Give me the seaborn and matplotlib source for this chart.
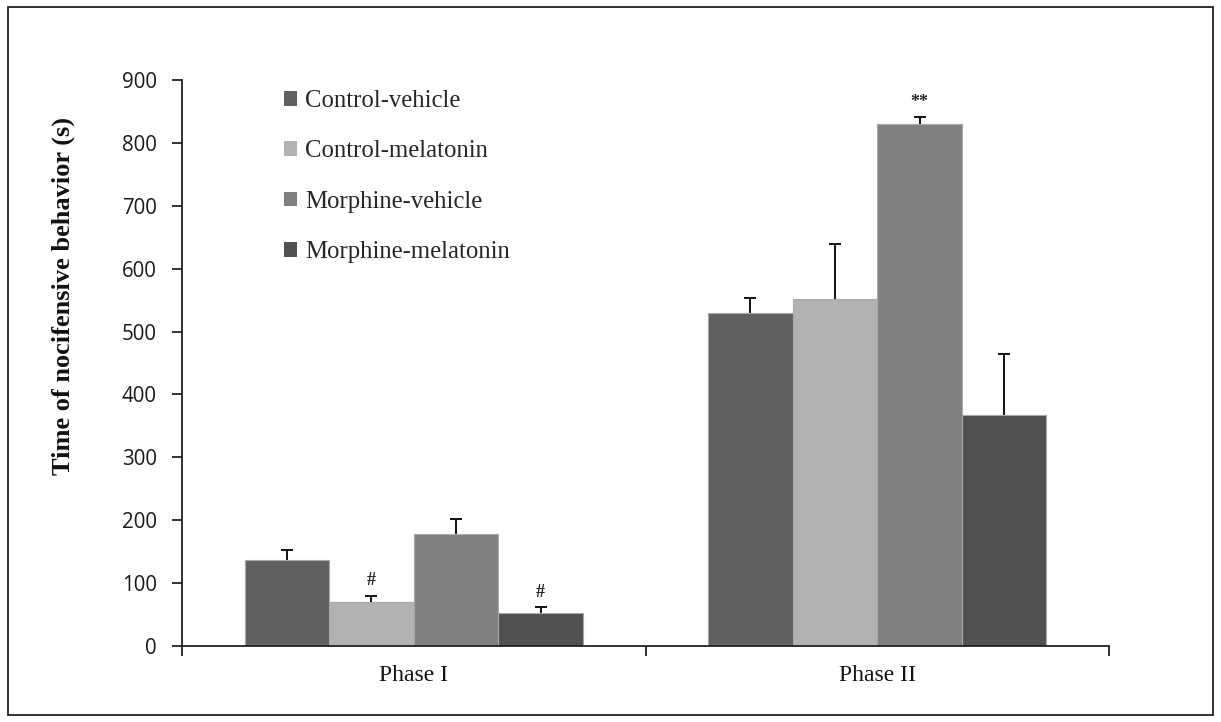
import matplotlib
matplotlib.use("Agg")
import matplotlib.pyplot as plt
import seaborn as sns
import pandas as pd
from matplotlib.patches import Rectangle
from matplotlib.ticker import FixedLocator

# ---- data ----
phases = ["Phase I", "Phase II"]
groups = ["Control-vehicle", "Control-melatonin", "Morphine-vehicle", "Morphine-melatonin"]
control_vehicle = [137, 530]
control_melatonin = [70, 552]
morphine_vehicle = [178, 830]
morphine_melatonin = [53, 367]
err_control_vehicle = [15, 24]
err_control_melatonin = [10, 87]
err_morphine_vehicle = [24, 11]
err_morphine_melatonin = [9, 97]
annotations = {("Phase I", "Control-melatonin"): "#",
               ("Phase I", "Morphine-melatonin"): "#",
               ("Phase II", "Morphine-vehicle"): "**"}
yticks = [0, 100, 200, 300, 400, 500, 600, 700, 800, 900]

colors = ["#606060", "#b2b2b2", "#808080", "#515151"]

values = [control_vehicle, control_melatonin, morphine_vehicle, morphine_melatonin]
errors = [err_control_vehicle, err_control_melatonin, err_morphine_vehicle, err_morphine_melatonin]

rows = []
for g, vals in zip(groups, values):
    for p, v in zip(phases, vals):
        rows.append({"phase": p, "group": g, "value": v})
df = pd.DataFrame(rows)

sns.set_theme(style="white")
serif = ["Liberation Serif", "DejaVu Serif"]
sans = ["Open Sans", "DejaVu Sans"]

fig = plt.figure(figsize=(12.21, 7.22), dpi=100)
ax = fig.add_axes([182 / 1221, 1 - 646 / 722, (1109 - 182) / 1221, (646 - 80) / 722])

sns.barplot(data=df, x="phase", y="value", hue="group", order=phases, hue_order=groups,
            palette=colors, width=0.73, edgecolor="#a8a8a8", linewidth=0.8,
            errorbar=None, ax=ax, saturation=1)

for cont, errs, g in zip(ax.containers, errors, groups):
    xs = [b.get_x() + b.get_width() / 2 for b in cont]
    hs = [b.get_height() for b in cont]
    _, caplines, _ = ax.errorbar(xs, hs, yerr=[[0] * len(errs), errs], fmt="none",
                                 ecolor="#111111", elinewidth=1.4, capsize=4,
                                 capthick=1.4, zorder=3)
    caplines[0].set_visible(False)
    for x, h, e, p in zip(xs, hs, errs, phases):
        key = (p, g)
        if key in annotations:
            ax.text(x, h + e + 10, annotations[key], ha="center", va="bottom",
                    fontsize=13, family=serif, fontweight="bold", color="#222222")

ax.set_ylim(0, 900)
ax.set_xlim(-0.5, 1.5)
ax.set_yticks(yticks)
ax.set_yticklabels([str(t) for t in yticks], family=sans, fontsize=14.8, color="#1a1a1a")
ax.set_xticks([0, 1])
ax.set_xticklabels(phases, family=serif, fontsize=17, color="#111111")
ax.xaxis.set_minor_locator(FixedLocator([-0.5, 0.5, 1.5]))
ax.tick_params(axis="x", which="major", length=0, pad=14)
ax.tick_params(axis="x", which="minor", length=7, width=1.3, direction="out", bottom=True, color="#222222")
ax.tick_params(axis="y", which="major", length=7, width=1.3, direction="out", left=True, pad=11, color="#222222")

for s in ["top", "right"]:
    ax.spines[s].set_visible(False)
for s in ["left", "bottom"]:
    ax.spines[s].set_color("#222222")
    ax.spines[s].set_linewidth(1.3)

ax.set_xlabel("")
ax.set_ylabel("Time of nocifensive behavior (s)", family=serif, fontsize=19,
              fontweight="bold", color="#111111")
ax.yaxis.set_label_coords((75 - 182) / (1109 - 182), (646 - 296) / 566)

leg = ax.legend(loc="upper left", bbox_to_anchor=((274 - 182) / (1109 - 182), 1.0),
                frameon=False, prop={"family": serif, "size": 17.8},
                handlelength=0.55, handleheight=0.55, handletextpad=0.3,
                labelspacing=1.15, borderaxespad=0.0)
for h in leg.legend_handles:
    h.set_edgecolor("none")

fig.patches.append(Rectangle((8 / 1221, 1 - 715 / 722), (1213 - 8) / 1221, (715 - 7) / 722,
                             transform=fig.transFigure, fill=False, edgecolor="#222222",
                             linewidth=1.3))

fig.savefig("out.png", dpi=100)
